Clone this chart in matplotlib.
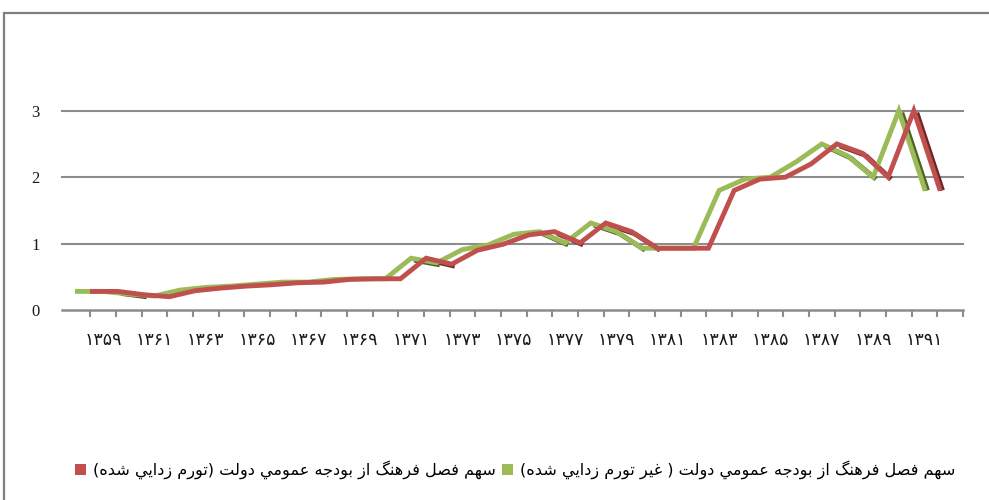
import matplotlib
matplotlib.use('Agg')
import matplotlib.pyplot as plt
from matplotlib.patches import Patch, Rectangle
from matplotlib.transforms import offset_copy

# data (share of culture chapter in the state budget, %)
years = list(range(1358, 1392))
label_years = list(range(1359, 1392, 2))
nominal = [0.28, 0.28, 0.24, 0.21, 0.30, 0.34, 0.36, 0.39, 0.42, 0.42,
           0.46, 0.47, 0.47, 0.78, 0.71, 0.91, 0.98, 1.14, 1.18, 1.01,
           1.31, 1.18, 0.93, 0.93, 0.93, 1.80, 1.97, 2.00, 2.23, 2.50,
           2.32, 2.00, 3.00, 1.83]
deflated = [0.28, 0.28, 0.23, 0.20, 0.29, 0.33, 0.36, 0.38, 0.41, 0.42,
            0.46, 0.47, 0.47, 0.78, 0.69, 0.90, 0.99, 1.13, 1.18, 1.01,
            1.31, 1.18, 0.93, 0.93, 0.93, 1.80, 1.97, 2.00, 2.20, 2.50,
            2.36, 2.00, 3.00, 1.83]
label_deflated = 'سهم فصل فرهنگ از بودجه عمومي دولت (تورم زدايي شده)'
label_nominal = 'سهم فصل فرهنگ از بودجه عمومي دولت ( غير تورم زدايي شده)'

GREEN, GREEN_DARK = '#9BBB59', '#4F6228'
RED, RED_DARK = '#C0504D', '#6E2624'
GREY = '#8C8C8C'

# simple arabic shaping (matplotlib has no bidi / joining support)
DUAL = {'ب': 0xFE8F, 'ت': 0xFE95, 'ج': 0xFE9D, 'س': 0xFEB1, 'ش': 0xFEB5,
        'ص': 0xFEB9, 'ع': 0xFEC9, 'غ': 0xFECD, 'ف': 0xFED1, 'ل': 0xFEDD,
        'م': 0xFEE1, 'ن': 0xFEE5, 'ه': 0xFEE9, 'ي': 0xFEF1, 'گ': 0xFB92}
RIGHT = {'ا': 0xFE8D, 'د': 0xFEA9, 'ر': 0xFEAD, 'ز': 0xFEAF, 'و': 0xFEED}


def shape(text):
    out = []
    for i, c in enumerate(text):
        if c in DUAL or c in RIGHT:
            base = DUAL.get(c, RIGHT.get(c))
            prev = i > 0 and text[i - 1] in DUAL
            nxt = c in DUAL and i + 1 < len(text) and (text[i + 1] in DUAL or text[i + 1] in RIGHT)
            k = 3 if (prev and nxt) else 1 if prev else 2 if nxt else 0
            out.append(chr(base + k))
        else:
            out.append({'(': ')', ')': '('}.get(c, c))
    return ''.join(reversed(out))


def fa_digits(n):
    return str(n).translate(str.maketrans('0123456789', '۰۱۲۳۴۵۶۷۸۹'))


fig = plt.figure(figsize=(9.89, 5.0), dpi=100)
ax = fig.add_axes([62 / 989, 190 / 500, 901 / 989, 202.6 / 500])

# chart border (cut at right/bottom in the original)
fig.add_artist(Rectangle((4 / 989, -0.1), 1.2, 0.1 + 487 / 500, transform=fig.transFigure,
                         fill=False, edgecolor='#7F7F7F', lw=1.6))

x = list(range(len(years)))


def ribbon(vals, light, dark, trans):
    shade = offset_copy(trans, fig=fig, x=3, y=-2, units='dots')
    for i in range(len(vals) - 1):
        if vals[i + 1] < vals[i] - 0.05:
            ax.plot(x[i:i + 2], vals[i:i + 2], color=dark, lw=3.5, transform=shade,
                    solid_capstyle='butt', clip_on=False, zorder=3)
    ax.plot(x, vals, color=light, lw=3.5, transform=trans, solid_joinstyle='miter',
            clip_on=False, zorder=4)


ribbon(nominal, GREEN, GREEN_DARK, ax.transData)
# deflated series sits one depth row back in the 3-d chart
ribbon(deflated, RED, RED_DARK, offset_copy(ax.transData, fig=fig, x=15, y=0, units='dots'))

ax.set_xlim(-0.6, 34.5)
ax.set_ylim(0, 3.05)
ax.set_yticks([0, 1, 2, 3])
for v in [1, 2, 3]:
    ax.axhline(v, color=GREY, lw=1.5, zorder=1, clip_on=False)
ax.tick_params(axis='y', length=0, pad=16, labelsize=12, labelcolor='#1a1a1a')
for t in ax.get_yticklabels():
    t.set_fontfamily('Liberation Serif')

ax.set_xticks([i + 0.5 for i in range(35)])
ax.set_xticklabels([])
ax.tick_params(axis='x', which='major', length=5, width=1.5, color=GREY, direction='out')
ax.set_xticks([years.index(y) for y in label_years], minor=True)
ax.set_xticklabels([fa_digits(y) for y in label_years], minor=True,
                   fontsize=12.5, family='DejaVu Sans', color='#1a1a1a')
ax.tick_params(axis='x', which='minor', length=0, pad=15)

for s in ['left', 'right', 'top']:
    ax.spines[s].set_visible(False)
ax.spines['bottom'].set_color(GREY)
ax.spines['bottom'].set_linewidth(1.8)
ax.set_facecolor('none')

handles = [Patch(facecolor=RED, edgecolor='none'), Patch(facecolor=GREEN, edgecolor='none')]
fig.legend(handles, [shape(label_deflated), shape(label_nominal)], loc='center',
           bbox_to_anchor=(515 / 989, 1 - 470 / 500), ncol=2, frameon=False,
           prop={'family': 'DejaVu Sans', 'size': 11.6}, handlelength=0.7, handleheight=0.7,
           handletextpad=0.4, columnspacing=0.4)

fig.savefig('out.png', dpi=100)
